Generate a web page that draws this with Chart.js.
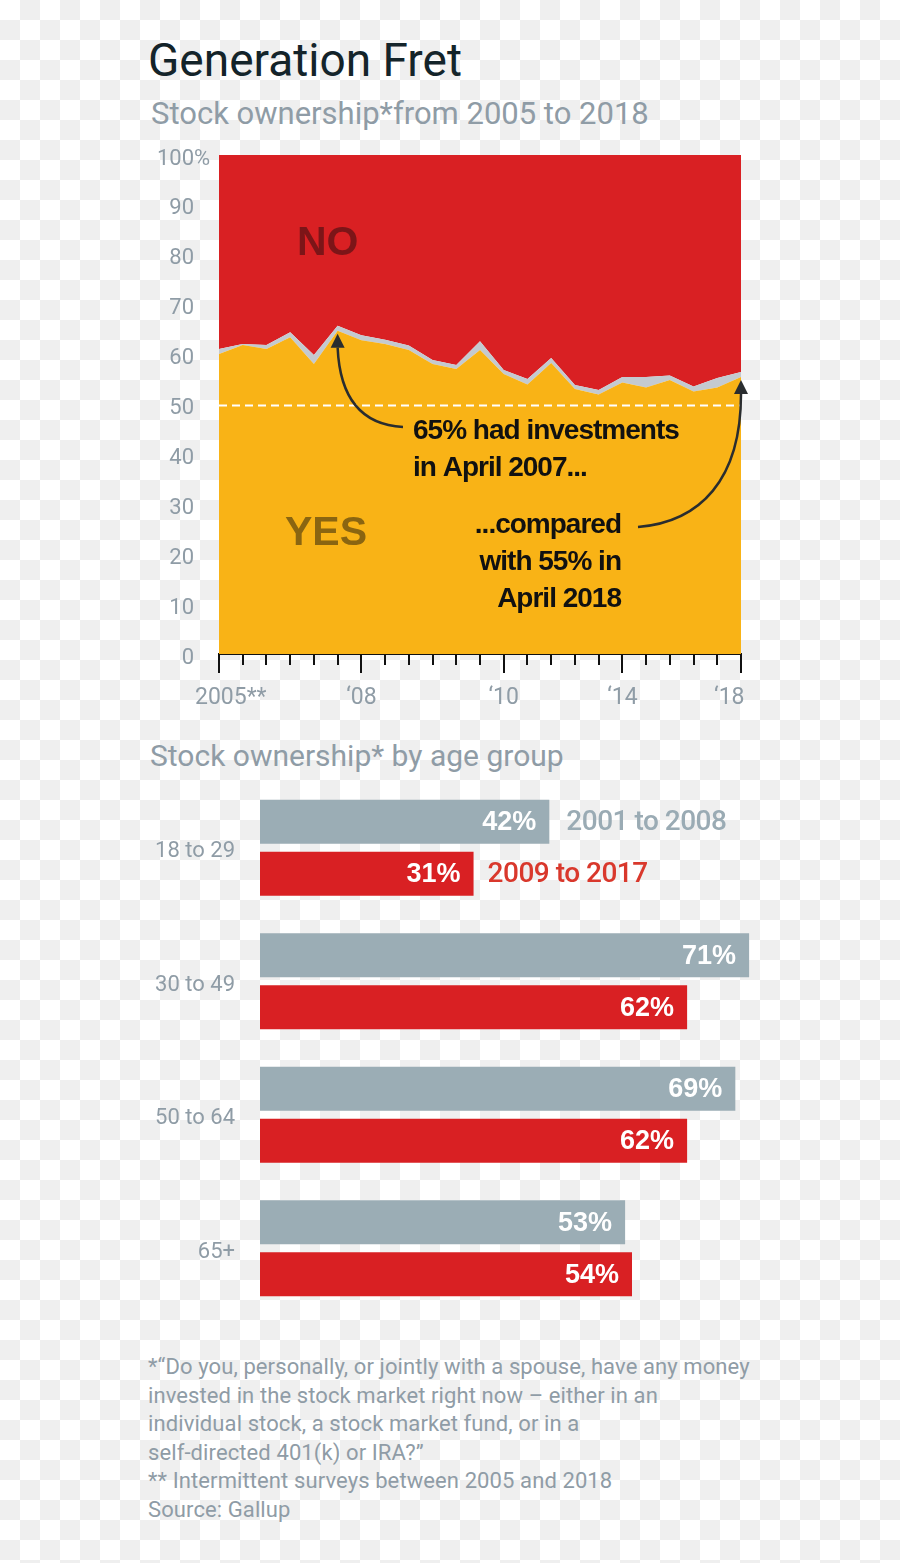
<!DOCTYPE html>
<html>
<head>
<meta charset="utf-8">
<script src="https://cdn.jsdelivr.net/npm/chart.js@4.4.1/dist/chart.umd.min.js"></script>
<style>
  html, body { margin: 0; padding: 0; }
  body {
    width: 900px; height: 1563px; position: relative; overflow: hidden;
    background: repeating-conic-gradient(#efefef 0 25%, #fff 0 50%) 0 0 / 40px 40px;
    font-family: Roboto, "Liberation Sans", sans-serif;
  }
  .title { position: absolute; left: 148px; top: 37px; font-size: 46px; line-height: 46px; color: #14242a; }
  .sub { position: absolute; left: 151px; font-size: 31px; line-height: 31px; color: #8f9ca6; }
  #area-wrap { position: absolute; left: 0; top: 140px; width: 900px; height: 580px; }
  #bars-wrap { position: absolute; left: 0; top: 781px; width: 900px; height: 534px; }
  .note { position: absolute; left: 148px; top: 1353px; font-size: 22px; line-height: 28.6px; color: #8f9ca6; letter-spacing: 0.1px; }
</style>
</head>
<body>
<div class="title">Generation Fret</div>
<div class="sub" style="top:98px">Stock ownership*from 2005 to 2018</div>
<div id="area-wrap"><canvas id="area"></canvas></div>
<div class="sub" style="top:741px;left:150px;font-size:30px;line-height:30px">Stock ownership* by age group</div>
<div id="bars-wrap"><canvas id="bars"></canvas></div>
<div class="note">*“Do you, personally, or jointly with a spouse, have any money<br>invested in the stock market right now – either in an<br>individual stock, a stock market fund, or in a<br>self-directed 401(k) or IRA?”<br>** Intermittent surveys between 2005 and 2018<br>Source: Gallup</div>

<script>
// Gallup surveys, 2005 to 2018 (23 points)
const surveyLabels = ['2005**', '', '', '', '', '', '\u201808', '', '', '', '', '', '\u201810', '', '', '', '', '\u201814', '', '', '', '', '\u201818'];
const yesValues = [60.1, 61.9, 61.1, 63.5, 58.1, 64.8, 62.9, 62.1, 60.9, 58.1, 57.1, 60.9, 56.1, 54.0, 58.3, 53.1, 52.0, 54.4, 53.4, 54.9, 52.6, 53.4, 55.5];
const unsureValues = [1.0, 0.2, 0.8, 1.0, 1.8, 1.0, 1.0, 0.9, 0.9, 0.8, 0.8, 1.8, 0.8, 1.1, 1.0, 0.8, 0.9, 1.1, 2.1, 0.9, 1.0, 1.9, 1.0];
const noValues = [38.9, 37.9, 38.1, 35.5, 40.1, 34.2, 36.1, 37.0, 38.2, 41.1, 42.1, 37.3, 43.1, 44.9, 40.7, 46.1, 47.1, 44.5, 44.5, 44.2, 46.4, 44.7, 43.5];

// by age group
const ageGroups = ['18 to 29', '30 to 49', '50 to 64', '65+'];
const early = [42, 71, 69, 53];   // 2001 to 2008
const late = [31, 62, 62, 54];    // 2009 to 2017

const GREY_TXT = '#8f9ca6';
const RED = '#d92023';
const YELLOW = '#f9b316';

function arrow(ctx, pts, tip) {
    ctx.save();
    ctx.strokeStyle = '#2a2d2f';
    ctx.fillStyle = '#2a2d2f';
    ctx.lineWidth = 2.5;
    ctx.beginPath();
    ctx.moveTo(pts[0], pts[1]);
    ctx.bezierCurveTo(pts[2], pts[3], pts[4], pts[5], pts[6], pts[7]);
    ctx.stroke();
    ctx.beginPath();
    ctx.moveTo(tip[0], tip[1]);
    ctx.lineTo(tip[0] - 7, tip[1] + 14);
    ctx.lineTo(tip[0] + 7, tip[1] + 14);
    ctx.closePath();
    ctx.fill();
    ctx.restore();
}

// no extra room for the labels above/below the axis
function noLabelPad(s) {
    s.paddingTop = 0;
    s.paddingBottom = 0;
}

const areaExtras = {
    id: 'areaExtras',
    afterDatasetsDraw(chart) {
        const { ctx, chartArea: ca, scales: { x, y } } = chart;
        ctx.save();
        // 50% reference line
        ctx.strokeStyle = '#fff';
        ctx.lineWidth = 2;
        ctx.setLineDash([8, 5]);
        ctx.beginPath();
        ctx.moveTo(ca.left, y.getPixelForValue(50) + 1);
        ctx.lineTo(ca.right, y.getPixelForValue(50) + 1);
        ctx.stroke();
        ctx.setLineDash([]);

        // NO / YES
        ctx.font = 'bold 41px "Liberation Sans", Arial, sans-serif';
        ctx.fillStyle = '#7c1518';
        ctx.fillText('NO', 297, 115);
        ctx.fillStyle = '#8a6511';
        ctx.fillText('YES', 285, 405);

        // annotations
        ctx.fillStyle = '#111';
        ctx.font = 'bold 28px "Liberation Sans", Arial, sans-serif';
        ctx.letterSpacing = '-1px';
        ctx.textAlign = 'left';
        ctx.fillText('65% had investments', 413, 299);
        ctx.fillText('in April 2007...', 413, 336);
        ctx.textAlign = 'right';
        ctx.fillText('...compared', 621, 393);
        ctx.fillText('with 55% in', 621, 430);
        ctx.fillText('April 2018', 621, 467);
        ctx.letterSpacing = '0px';

        const x07 = x.getPixelForValue(5), y07 = y.getPixelForValue(yesValues[5]) + 3;
        arrow(ctx, [403, 287, 365, 285, 340, 262, x07, y07 + 14], [x07, y07]);
        const x18 = x.getPixelForValue(22), y18 = y.getPixelForValue(yesValues[22]) + 3;
        arrow(ctx, [638, 387, 700, 382, x18, 340, x18, y18 + 14], [x18, y18]);

        // tick marks
        ctx.strokeStyle = '#111';
        ctx.lineWidth = 2;
        surveyLabels.forEach((lab, i) => {
            const px = Math.round(x.getPixelForValue(i));
            ctx.beginPath();
            ctx.moveTo(px, ca.bottom);
            ctx.lineTo(px, ca.bottom + (lab ? 19 : 11));
            ctx.stroke();
        });

        // % sign on top label
        ctx.font = '22px Roboto, sans-serif';
        ctx.fillStyle = GREY_TXT;
        ctx.textAlign = 'left';
        ctx.textBaseline = 'middle';
        ctx.fillText('%', ca.left - 25, y.getPixelForValue(100) + 4);
        ctx.restore();
    }
};

new Chart(document.getElementById('area'), {
    type: 'line',
    data: {
        labels: surveyLabels,
        datasets: [
            { label: 'Yes', data: yesValues, backgroundColor: YELLOW, fill: 'origin' },
            { label: 'No opinion', data: unsureValues, backgroundColor: '#c4cad0', fill: '-1' },
            { label: 'No', data: noValues, backgroundColor: RED, fill: '-1' }
        ]
    },
    options: {
        responsive: true,
        maintainAspectRatio: false,
        animation: false,
        layout: { padding: { top: 15, right: 159, left: 0, bottom: 0 } },
        elements: { line: { borderWidth: 0, tension: 0 }, point: { radius: 0 } },
        plugins: { legend: { display: false }, tooltip: { enabled: false } },
        scales: {
            x: {
                grid: { display: false },
                border: { display: true, color: '#111', width: 2 },
                ticks: {
                    autoSkip: false, maxRotation: 0, padding: 22, color: GREY_TXT,
                    font: { family: 'Roboto', size: 23 },
                    // nudge the end labels inward
                    callback: (v, i, arr) => {
                        const lab = surveyLabels[i];
                        if (i === 0) return '\u2003' + lab;
                        if (i === arr.length - 1) return lab + '\u2003';
                        return lab;
                    }
                },
                afterFit: (s) => { s.height = 66; }
            },
            y: {
                stacked: true,
                min: 0,
                max: 100,
                grid: { display: false, drawTicks: false },
                border: { display: false },
                ticks: { stepSize: 10, padding: 25, labelOffset: 4, color: GREY_TXT, font: { family: 'Roboto', size: 22 } },
                afterFit: (s) => { s.width = 219; noLabelPad(s); }
            }
        }
    },
    plugins: [areaExtras]
});

const barLabels = {
    id: 'barLabels',
    afterDatasetsDraw(chart) {
        const { ctx } = chart;
        ctx.save();
        ctx.textBaseline = 'middle';
        chart.data.datasets.forEach((ds, di) => {
            chart.getDatasetMeta(di).data.forEach((bar, i) => {
                ctx.font = 'bold 27px "Liberation Sans", Arial, sans-serif';
                ctx.fillStyle = '#fff';
                ctx.textAlign = 'right';
                ctx.fillText(ds.data[i] + '%', bar.x - 13, bar.y + 1);
                if (i === 0) {
                    ctx.font = '500 28px Roboto, sans-serif';
                    ctx.letterSpacing = '-0.5px';
                    ctx.fillStyle = di === 0 ? '#9aabb4' : '#d9382c';
                    ctx.textAlign = 'left';
                    ctx.fillText(ds.label, bar.x + (di === 0 ? 17 : 14), bar.y + 1);
                    ctx.letterSpacing = '0px';
                }
            });
        });
        ctx.restore();
    }
};

new Chart(document.getElementById('bars'), {
    type: 'bar',
    data: {
        labels: ageGroups,
        datasets: [
            { label: '2001 to 2008', data: early, backgroundColor: '#9badb5' },
            { label: '2009 to 2017', data: late, backgroundColor: RED }
        ]
    },
    options: {
        indexAxis: 'y',
        responsive: true,
        maintainAspectRatio: false,
        animation: false,
        layout: { padding: { top: 0, right: 20, left: 0, bottom: 0 } },
        datasets: { bar: { categoryPercentage: 0.779, barPercentage: 0.846 } },
        plugins: { legend: { display: false }, tooltip: { enabled: false } },
        scales: {
            x: { display: false, min: 0, max: 90 },
            y: {
                grid: { display: false, drawTicks: false },
                border: { display: false },
                ticks: { padding: 25, labelOffset: 4, color: GREY_TXT, font: { family: 'Roboto', size: 22 } },
                afterFit: (s) => { s.width = 260; noLabelPad(s); }
            }
        }
    },
    plugins: [barLabels]
});
</script>
</body>
</html>
